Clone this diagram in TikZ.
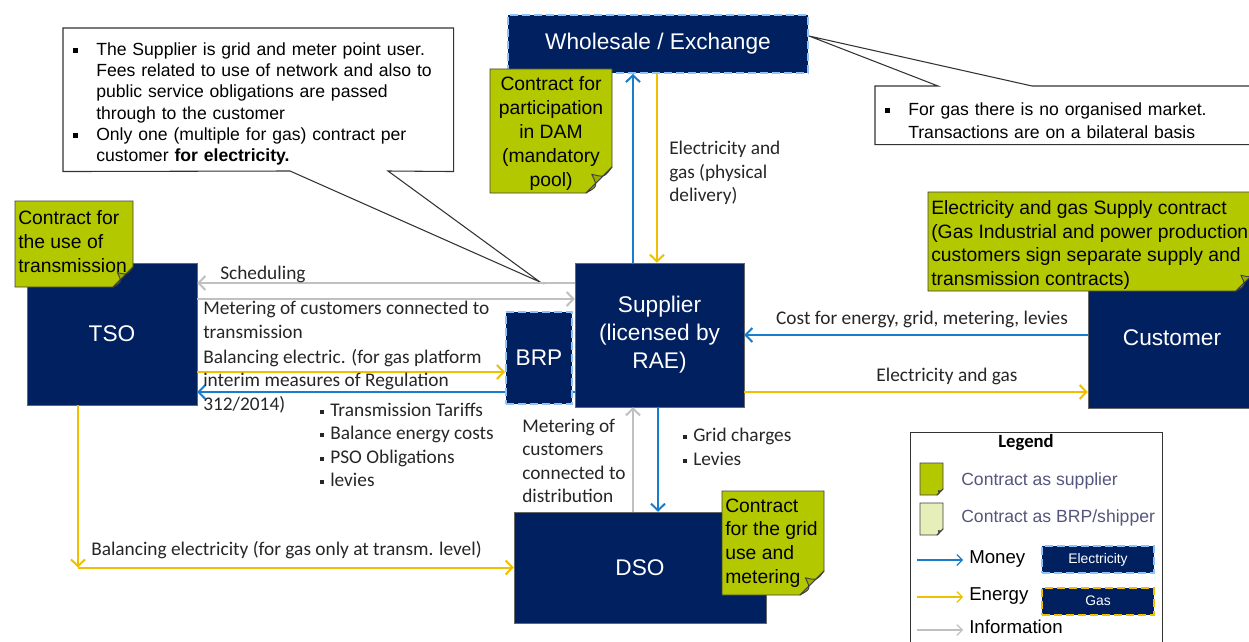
\documentclass[tikz,border=0pt]{standalone}
\usepackage{fontspec}
\setmainfont{Liberation Sans}
\newfontfamily\calfont{Carlito}
\usepackage{tikz}
\usetikzlibrary{arrows.meta,backgrounds}

\definecolor{navy}{RGB}{0,32,96}
\definecolor{edgeblue}{RGB}{140,195,250}
\definecolor{moneyblue}{RGB}{25,125,205}
\definecolor{energyyellow}{RGB}{238,192,0}
\definecolor{infogray}{RGB}{192,192,192}
\definecolor{notegreen}{RGB}{180,200,0}
\definecolor{notefold}{RGB}{155,175,0}
\definecolor{notelight}{RGB}{230,238,185}
\definecolor{legendtext}{RGB}{85,85,125}

% one pixel of the layout
\newlength{\px}
\setlength{\px}{0.75pt}

\newcommand{\sqbullet}{\raisebox{0.25ex}{\rule{3.75pt}{3.75pt}}}
\newcommand{\bitem}[1]{\par\hangindent=17.25pt\hangafter=1\noindent\makebox[17.25pt][l]{\sqbullet}#1\par}
\newcommand{\lbullet}{\makebox[10\px][l]{\raisebox{0.3ex}{\rule{3pt}{3pt}}}}
% contract note: left, top, right, bottom, fold, colour
\newcommand{\notebody}[6]{%
  \draw[notebodyline, fill=#6] (#1,#2) -- (#3,#2) -- (#3,{#4-#5}) -- ({#3-#5},#4) -- (#1,#4) -- cycle;}
% folded corner: right, bottom, fold
\newcommand{\notefold}[3]{%
  \draw[notefoldline] ({#1-#3},#2)
    .. controls ({#1-0.55*#3},{#2-0.25*#3}) .. ({#1-0.78*#3},{#2-0.72*#3})
    .. controls ({#1-0.3*#3},{#2-0.6*#3}) .. (#1,{#2-#3}) -- cycle;}

\begin{document}
\begin{tikzpicture}[x=0.75pt, y=-0.75pt,
    entity/.style={fill=navy, draw=black!60, text=white, font=\fontsize{17}{21}\selectfont, align=center, inner sep=0pt},
    dashbox/.style={entity, draw=edgeblue, line width=1.5pt, dash pattern=on 6pt off 3pt},
    notebodyline/.style={draw=black!75, line width=0.7pt},
    notefoldline/.style={fill=notefold, draw=black!75, line width=0.7pt, line join=round},
    notetext/.style={font=\fontsize{14.5}{18}\selectfont, inner sep=0pt},
    callout/.style={inner xsep=10\px, inner ysep=0pt, font=\fontsize{13.2}{16}\selectfont, align=left, anchor=north west},
    calloutline/.style={draw=black!80, line width=0.8pt},
    flow/.style={line width=1.5pt, -{Straight Barb[length=5pt,width=10.5pt]}},
    money/.style={flow, draw=moneyblue},
    energy/.style={flow, draw=energyyellow},
    info/.style={flow, draw=infogray},
    legflow/.style={line width=0.9pt, -{Straight Barb[length=4pt,width=8pt]}},
    lbl/.style={font=\calfont\fontsize{14.5}{17.5}\selectfont, text=black!85, align=left, inner sep=0pt},
    legtxt/.style={font=\fontsize{13.2}{16}\selectfont, anchor=west, inner sep=0pt},
  ]
  \useasboundingbox (0,0) rectangle (1249,642);
  \clip (0,0) rectangle (1249,642);

  % market parties
  \node[dashbox, minimum width=300\px, minimum height=58\px] (wholesale) at (658,44) {Wholesale / Exchange};
  \node[entity, minimum width=169\px, minimum height=144\px] (supplier) at (659.5,335) {Supplier\\(licensed by\\RAE)};
  \node[entity, minimum width=170\px, minimum height=142\px] (tso) at (112,334) {TSO};
  \node[dashbox, minimum width=66\px, minimum height=92\px] (brp) at (539,358) {BRP};
  \node[entity, minimum width=168\px, minimum height=140\px] (customer) at (1172,338) {Customer};
  \node[entity, minimum width=252\px, minimum height=111\px] (dso) at (640,567.5) {DSO};

  % contracts
  \notebody{15}{201}{133}{287}{20}{notegreen}
  \node[notetext, anchor=west, align=left] (tsonote) at (18,242) {Contract for\\the use of\\transmission};
  \notefold{133}{287}{20}
  \notebody{490}{69}{612}{193}{26}{notegreen}
  \node[notetext, align=center] (damnote) at (551,134) {Contract for\\participation\\in DAM\\(mandatory\\pool)};
  \notefold{612}{193}{26}
  \notebody{928}{192}{1258}{291}{22}{notegreen}
  \node[notetext, anchor=west, align=left, font=\fontsize{14.5}{17.75}\selectfont] (custnote) at (931,245) {Electricity and gas Supply contract\\(Gas Industrial and power production\\customers sign separate supply and\\transmission contracts)};
  \notefold{1258}{291}{22}
  \notebody{722}{491}{824}{595}{24}{notegreen}
  \node[notetext, anchor=west, align=left, font=\fontsize{14.5}{17.75}\selectfont] (dsonote) at (725,543) {Contract\\for the grid\\use and\\metering};
  \notefold{824}{595}{24}

  % remarks
  \node[callout, minimum width=390\px, minimum height=143\px, text width=370\px] (supnote) at (63,28) {%
    \bitem{The Supplier is grid and meter point user.\newline Fees related to use of network and also to\newline public service obligations are passed\newline through to the customer}
    \bitem{Only one (multiple for gas) contract per\newline customer \textbf{for electricity.}}};
  \coordinate (tipleft) at (540,282);
  \draw[calloutline] (supnote.north west) -- (supnote.north east) -- (supnote.south east) -- (388,171) -- (tipleft) -- (290,171) -- (supnote.south west) -- cycle;
  \node[callout, minimum width=387\px, minimum height=58\px, text width=367\px, font=\fontsize{13.2}{17.25}\selectfont] (gasnote) at (875,86) {%
    \bitem{For gas there is no organised market.\newline Transactions are on a bilateral basis}};
  \coordinate (tipright) at ([yshift=8\px]wholesale.east);
  \draw[calloutline] (1032,86) -- (gasnote.north east) -- (gasnote.south east) -- (gasnote.south west) -- (gasnote.north west) -- (938,86) -- (tipright) -- cycle;

  % flows
  \coordinate (damUp) at ([xshift=-26.5\px]supplier.north);
  \coordinate (damDown) at ([xshift=-2.5\px]supplier.north);
  \coordinate (schedR) at ([yshift=52\px]supplier.west);
  \coordinate (meterR) at ([yshift=36\px]supplier.west);
  \coordinate (balL) at ([yshift=-38\px]tso.east);
  \coordinate (feeR) at ([yshift=-57\px]supplier.west);
  \coordinate (delivL) at ([yshift=-57\px]supplier.east);
  \coordinate (distUp) at ([xshift=-26.5\px]supplier.south);
  \coordinate (distDown) at ([xshift=-1.5\px]supplier.south);
  \coordinate (tsoDown) at ([xshift=-34\px]tso.south);

  \draw[money] (damUp) -- (damUp |- wholesale.south);
  \draw[energy] (damDown |- wholesale.south) -- (damDown);
  \draw[info] (schedR) -- (schedR -| tso.east);
  \draw[info] (meterR -| tso.east) -- (meterR);
  \draw[energy] (balL) -- (balL -| brp.west);
  \begin{pgfonlayer}{background}
    \draw[money] (feeR) -- (feeR -| tso.east);
  \end{pgfonlayer}
  \draw[money] (customer.west |- supplier.east) -- (supplier.east);
  \draw[energy] (delivL) -- (delivL -| customer.west);
  \draw[info] (distUp |- dso.north) -- (distUp);
  \draw[money] (distDown) -- (distDown |- dso.north);
  \draw[energy] (tsoDown) -- (tsoDown |- dso.west);
  \draw[energy] (tsoDown |- dso.west) -- (dso.west);

  % flow labels
  \node[lbl, anchor=west] (physlbl) at (669,173) {Electricity and\\gas (physical\\delivery)};
  \node[lbl, anchor=west] (schedlbl) at (220,274) {Scheduling};
  \node[lbl, anchor=west] (meterlbl) at (203,320) {Metering of customers connected to\\transmission};
  \node[lbl, anchor=west] (ballbl) at (203,381) {Balancing electric. (for gas platform\\interim measures of Regulation\\312/2014)};
  \node[lbl, anchor=west] (feelbl) at (320,445) {\lbullet Transmission Tariffs\\\lbullet Balance energy costs\\\lbullet PSO Obligations\\\lbullet levies};
  \node[lbl, anchor=west] (distlbl) at (522,461) {Metering of\\customers\\connected to\\distribution};
  \node[lbl, anchor=west] (gridlbl) at (683,447) {\lbullet Grid charges\\\lbullet Levies};
  \node[lbl] (costlbl) at (922,319) {Cost for energy, grid, metering, levies};
  \node[lbl] (delivlbl) at (947,376) {Electricity and gas};
  \node[lbl, anchor=west] (tsobal) at (91,550) {Balancing electricity (for gas only at transm. level)};

  % legend
  \node[draw=black!80, line width=0.8pt, minimum width=252\px, minimum height=250\px, anchor=north west, inner sep=0pt] (legend) at (910,432) {};
  \node[font=\calfont\bfseries\fontsize{14}{16}\selectfont, inner sep=0pt] (legtitle) at (1026,443) {Legend};
  \notebody{920}{463}{943}{495}{6}{notegreen}
  \notefold{943}{495}{6}
  \node[legtxt, text=legendtext] (legsuptxt) at (961,481) {Contract as supplier};
  \notebody{920}{503}{943}{535}{6}{notelight}
  \notefold{943}{535}{6}
  \node[legtxt, text=legendtext] (legbrptxt) at (961,518) {Contract as BRP/shipper};
  \node[legtxt, font=\fontsize{14}{16}\selectfont] (legmoney) at (969,559) {Money};
  \node[legtxt, font=\fontsize{14}{16}\selectfont] (legenergy) at (969,596) {Energy};
  \node[legtxt, font=\fontsize{14}{16}\selectfont] (leginfo) at (969,627) {Information};
  \coordinate (legtip) at ([xshift=-6\px]legmoney.west);
  \coordinate (legmoneyL) at (917,560);
  \coordinate (legenergyL) at (917,597);
  \coordinate (leginfoL) at (917,630);
  \draw[legflow, moneyblue] (legmoneyL) -- (legmoneyL -| legtip);
  \draw[legflow, energyyellow] (legenergyL) -- (legenergyL -| legtip);
  \draw[legflow, infogray] (leginfoL) -- (leginfoL -| legtip);
  \node[dashbox, minimum width=112\px, minimum height=27\px, font=\fontsize{10.4}{12}\selectfont] (legelec) at (1098,559.5) {Electricity};
  \node[dashbox, draw=energyyellow, minimum width=112\px, minimum height=27\px, font=\fontsize{10.4}{12}\selectfont] (leggas) at (1098,601) {Gas};
\end{tikzpicture}
\end{document}
